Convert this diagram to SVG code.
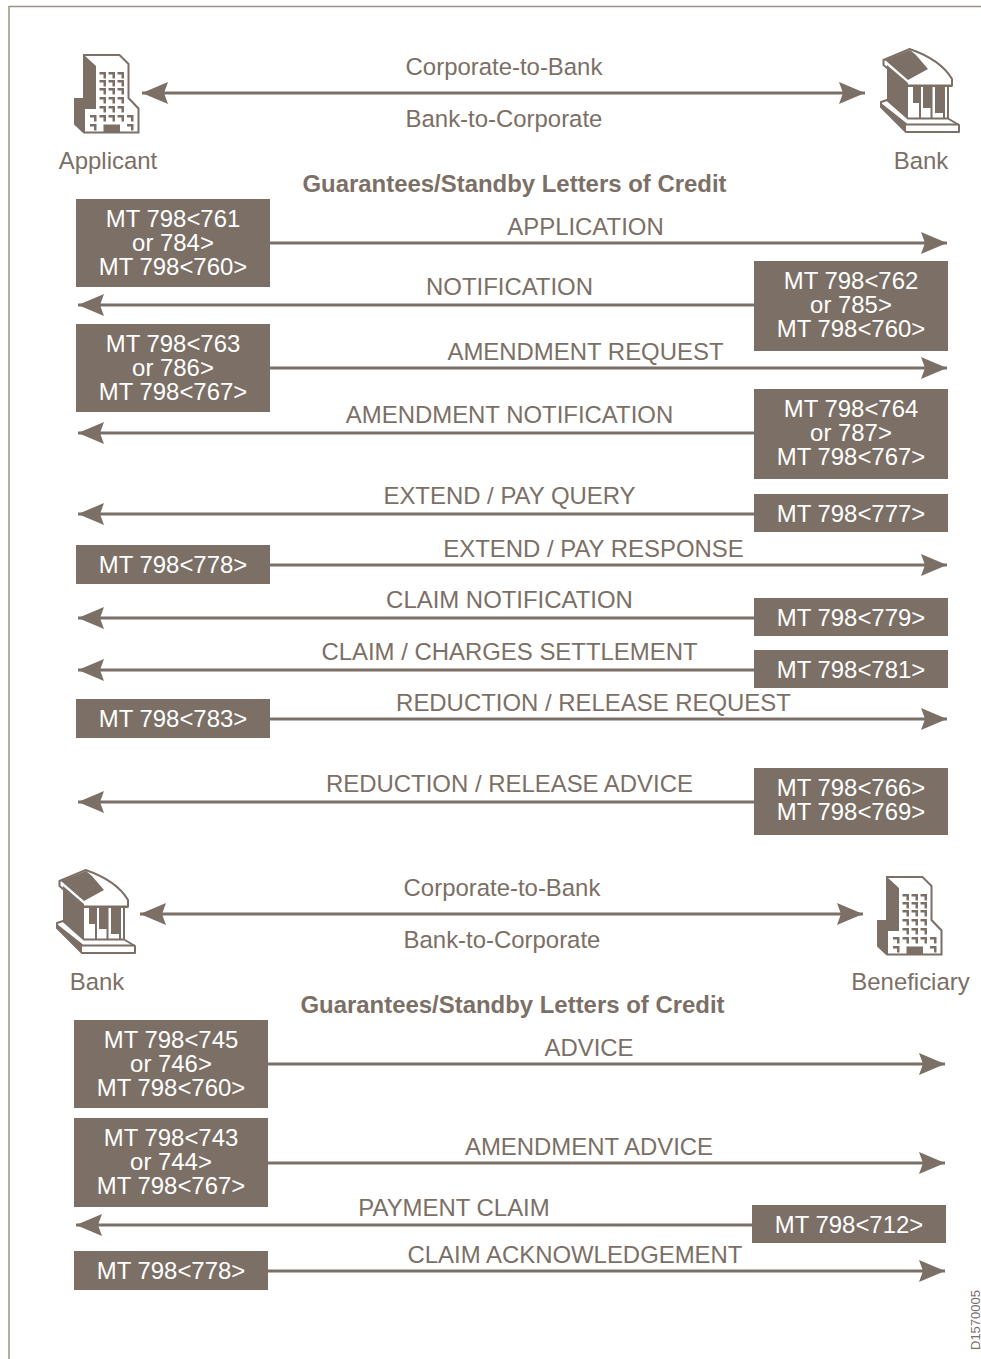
<svg xmlns="http://www.w3.org/2000/svg" width="981" height="1359" viewBox="0 0 981 1359">
<style>
text{font-family:"Liberation Sans",Arial,sans-serif;font-size:23.93px;fill:#7b6f66;text-anchor:middle}
.b{fill:#7b6f66}
.t{fill:#fff}
.h{font-weight:bold}
.c line{stroke:#7b6f66;stroke-width:3;fill:none}
.r{marker-end:url(#a)}
.d{marker-start:url(#s);marker-end:url(#a)}
</style>
<defs>
<marker id="a" markerUnits="userSpaceOnUse" markerWidth="30" markerHeight="26" refX="27" refY="13" orient="auto" viewBox="0 0 30 26"><path d="M1 2 L27 13 L1 24 L5 13Z" fill="#7b6f66"/></marker>
<marker id="s" markerUnits="userSpaceOnUse" markerWidth="30" markerHeight="26" refX="27" refY="13" orient="auto-start-reverse" viewBox="0 0 30 26"><path d="M1 2 L27 13 L1 24 L5 13Z" fill="#7b6f66"/></marker>
<g id="office">
<path d="M84 55H119.500L128.500 64V98L138.500 108.500V132.500H84L75 124V99H84Z" fill="#fff" stroke="#7b6f66" stroke-width="2"/>
<path d="M75 99H84V55L96 66V109H85V133H84L75 124Z" fill="#7b6f66"/>
<path d="M99.500 72h6.500v6.500h-2.500v-4h-4zM108.500 72h6.500v6.500h-2.500v-4h-4zM117.500 72h6.500v6.500h-2.500v-4h-4zM99.500 80h6.500v6.500h-2.500v-4h-4zM108.500 80h6.500v6.500h-2.500v-4h-4zM117.500 80h6.500v6.500h-2.500v-4h-4zM99.500 88h6.500v6.500h-2.500v-4h-4zM108.500 88h6.500v6.500h-2.500v-4h-4zM117.500 88h6.500v6.500h-2.500v-4h-4zM99.500 97h6.500v6.500h-2.500v-4h-4zM108.500 97h6.500v6.500h-2.500v-4h-4zM117.500 97h6.500v6.500h-2.500v-4h-4zM99.500 106h6.500v6.500h-2.500v-4h-4zM108.500 106h6.500v6.500h-2.500v-4h-4zM117.500 106h6.500v6.500h-2.500v-4h-4zM90 115h6.500v6.500h-2.500v-4h-4zM99.500 115h6.500v6.500h-2.500v-4h-4zM108.500 115h6.500v6.500h-2.500v-4h-4zM117.500 115h6.500v6.500h-2.500v-4h-4zM127 115h6.500v6.500h-2.500v-4h-4zM90 124h6.500v6.500h-2.500v-4h-4zM127 124h6.500v6.500h-2.500v-4h-4z" fill="#7b6f66"/>
<rect x="103.500" y="124.500" width="16.500" height="8.500" fill="#7b6f66"/>
</g>
<g id="bank">
<path d="M883.500 60L909.500 49C930 56 945 67 952 79V85.500H908L883.500 65Z" fill="#fff" stroke="#7b6f66" stroke-width="2"/>
<path d="M910 50L885 60L908 80L928 69L916 55Z" fill="#7b6f66"/>
<path d="M887 65L908 83V120L887 101Z" fill="#7b6f66"/>
<path d="M908 86H949V120H908Z" fill="#fff"/>
<path d="M908 85H952V87H908ZM913 86H921V119H919V103H913ZM923 86H932.500V119H930.500V108H923ZM935 86H945V119H943V113H935ZM947 86H949V119H947Z" fill="#7b6f66"/>
<path d="M881 102L887 100L908 118.500H948L959 125V132H906L881 107Z" fill="#fff" stroke="#7b6f66" stroke-width="2" stroke-linejoin="round"/>
<path d="M881 103V107L906 132V125.500H959V123.500H907Z" fill="#7b6f66"/>
</g>
</defs>
<path d="M9 1359V6.500H981" fill="none" stroke="#9b9389" stroke-width="1.500"/>

<g id="connectors" class="c">
<line class="d" x1="142" y1="93" x2="865" y2="93"/>
<line class="r" x1="270" y1="243" x2="947" y2="243"/>
<line class="r" x1="754" y1="305" x2="78" y2="305"/>
<line class="r" x1="270" y1="368" x2="947" y2="368"/>
<line class="r" x1="754" y1="433" x2="78" y2="433"/>
<line class="r" x1="754" y1="514" x2="78" y2="514"/>
<line class="r" x1="270" y1="565" x2="947" y2="565"/>
<line class="r" x1="754" y1="618" x2="78" y2="618"/>
<line class="r" x1="754" y1="670" x2="78" y2="670"/>
<line class="r" x1="270" y1="719" x2="947" y2="719"/>
<line class="r" x1="754" y1="802" x2="78" y2="802"/>
<line class="d" x1="140" y1="914" x2="863" y2="914"/>
<line class="r" x1="268" y1="1064" x2="945" y2="1064"/>
<line class="r" x1="268" y1="1163" x2="945" y2="1163"/>
<line class="r" x1="752" y1="1225" x2="76" y2="1225"/>
<line class="r" x1="268" y1="1271" x2="945" y2="1271"/>
</g>

<g id="applicant"><use href="#office"/><text x="108" y="169">Applicant</text></g>
<g id="bank-top"><use href="#bank"/><text x="921" y="169">Bank</text></g>
<g id="bank-bottom"><use href="#bank" x="-824" y="821"/><text x="97" y="990">Bank</text></g>
<g id="beneficiary"><use href="#office" x="803" y="822"/><text x="910.500" y="990">Beneficiary</text></g>

<g id="labels">
<text x="504" y="75">Corporate-to-Bank</text>
<text x="504" y="127">Bank-to-Corporate</text>
<text class="h" x="514.500" y="192">Guarantees/Standby Letters of Credit</text>
<text x="585.500" y="235">APPLICATION</text>
<text x="509.500" y="295">NOTIFICATION</text>
<text x="585.500" y="360">AMENDMENT REQUEST</text>
<text x="509.500" y="423">AMENDMENT NOTIFICATION</text>
<text x="509.500" y="504">EXTEND / PAY QUERY</text>
<text x="593.500" y="557">EXTEND / PAY RESPONSE</text>
<text x="509.500" y="608">CLAIM NOTIFICATION</text>
<text x="509.500" y="660">CLAIM / CHARGES SETTLEMENT</text>
<text x="593.500" y="711">REDUCTION / RELEASE REQUEST</text>
<text x="509.500" y="792">REDUCTION / RELEASE ADVICE</text>
<text x="502" y="896">Corporate-to-Bank</text>
<text x="502" y="948">Bank-to-Corporate</text>
<text class="h" x="512.500" y="1013">Guarantees/Standby Letters of Credit</text>
<text x="589" y="1056">ADVICE</text>
<text x="589" y="1155">AMENDMENT ADVICE</text>
<text x="454" y="1216">PAYMENT CLAIM</text>
<text x="575" y="1263">CLAIM ACKNOWLEDGEMENT</text>
<text transform="translate(980 1320) rotate(-90)" style="font-size:13px">D1570005</text>
</g>

<g id="n761"><rect class="b" x="76" y="199" width="194" height="88"/><text class="t"><tspan x="173" y="227">MT 798&lt;761</tspan><tspan x="173" y="251">or 784&gt;</tspan><tspan x="173" y="275">MT 798&lt;760&gt;</tspan></text></g>
<g id="n762"><rect class="b" x="754" y="261" width="194" height="90"/><text class="t"><tspan x="851" y="289">MT 798&lt;762</tspan><tspan x="851" y="313">or 785&gt;</tspan><tspan x="851" y="337">MT 798&lt;760&gt;</tspan></text></g>
<g id="n763"><rect class="b" x="76" y="324" width="194" height="88"/><text class="t"><tspan x="173" y="352">MT 798&lt;763</tspan><tspan x="173" y="376">or 786&gt;</tspan><tspan x="173" y="400">MT 798&lt;767&gt;</tspan></text></g>
<g id="n764"><rect class="b" x="754" y="389" width="194" height="90"/><text class="t"><tspan x="851" y="417">MT 798&lt;764</tspan><tspan x="851" y="441">or 787&gt;</tspan><tspan x="851" y="465">MT 798&lt;767&gt;</tspan></text></g>
<g id="n777"><rect class="b" x="754" y="494" width="194" height="38"/><text class="t" x="851" y="522">MT 798&lt;777&gt;</text></g>
<g id="n778"><rect class="b" x="76" y="545" width="194" height="39"/><text class="t" x="173" y="573">MT 798&lt;778&gt;</text></g>
<g id="n779"><rect class="b" x="754" y="598" width="194" height="38"/><text class="t" x="851" y="626">MT 798&lt;779&gt;</text></g>
<g id="n781"><rect class="b" x="754" y="650" width="194" height="38"/><text class="t" x="851" y="678">MT 798&lt;781&gt;</text></g>
<g id="n783"><rect class="b" x="76" y="699" width="194" height="39"/><text class="t" x="173" y="727">MT 798&lt;783&gt;</text></g>
<g id="n766"><rect class="b" x="754" y="768" width="194" height="67"/><text class="t"><tspan x="851" y="796">MT 798&lt;766&gt;</tspan><tspan x="851" y="820">MT 798&lt;769&gt;</tspan></text></g>
<g id="n745"><rect class="b" x="74" y="1020" width="194" height="88"/><text class="t"><tspan x="171" y="1048">MT 798&lt;745</tspan><tspan x="171" y="1072">or 746&gt;</tspan><tspan x="171" y="1096">MT 798&lt;760&gt;</tspan></text></g>
<g id="n743"><rect class="b" x="74" y="1118" width="194" height="89"/><text class="t"><tspan x="171" y="1146">MT 798&lt;743</tspan><tspan x="171" y="1170">or 744&gt;</tspan><tspan x="171" y="1194">MT 798&lt;767&gt;</tspan></text></g>
<g id="n712"><rect class="b" x="752" y="1205" width="194" height="38"/><text class="t" x="849" y="1233">MT 798&lt;712&gt;</text></g>
<g id="n778b"><rect class="b" x="74" y="1251" width="194" height="39"/><text class="t" x="171" y="1279">MT 798&lt;778&gt;</text></g>
</svg>
